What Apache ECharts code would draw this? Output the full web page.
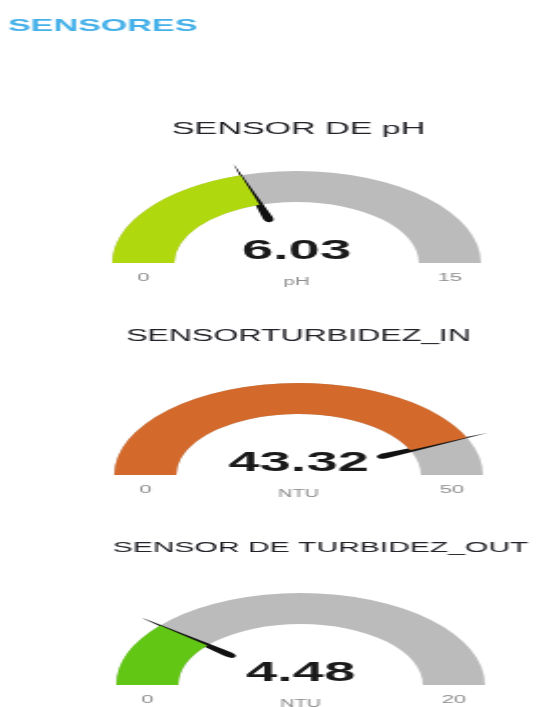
<!DOCTYPE html>
<html>
<head>
<meta charset="utf-8">
<script src="https://cdn.jsdelivr.net/npm/echarts@6/dist/echarts.min.js"></script>
<style>
  html, body { margin: 0; padding: 0; background: #fff; overflow: hidden; }
  /* the reference is a horizontally stretched screenshot, so draw at half width and stretch */
  #main { width: 268px; height: 707px; transform: scaleX(2.0037); transform-origin: 0 0; }
</style>
</head>
<body>
<div id="main"></div>
<script>
// data
var pageTitle = 'SENSORES'
var gaugeTitles = ['SENSOR DE pH', 'SENSORTURBIDEZ_IN', 'SENSOR DE TURBIDEZ_OUT']
var gaugeValues = [6.03, 43.32, 4.48]
var gaugeMins = [0, 0, 0]
var gaugeMaxs = [15, 50, 20]
var gaugeUnits = ['pH', 'NTU', 'NTU']
var gaugeColors = ['#b0d80e', '#d3692a', '#62c614']

// layout (unstretched px)
var centers = [[148, 263], [149, 475], [150, 685]]
var titlePos = [[149, 129, 17], [149, 337, 16], [160, 548, 15]]
var R = 92
var W = 31

var chart = echarts.init(document.getElementById('main'))

var series = []
var graphics = []
gaugeValues.forEach(function(v, i) {
  series.push({
    type: 'gauge',
    center: centers[i],
    radius: R,
    startAngle: 180,
    endAngle: 0,
    min: gaugeMins[i],
    max: gaugeMaxs[i],
    animation: false,
    axisLine: { lineStyle: { width: W, color: [[1, '#bbbbbb']] } },
    progress: { show: true, width: W, itemStyle: { color: gaugeColors[i] } },
    splitLine: { show: false },
    axisTick: { show: false },
    axisLabel: { show: false },
    anchor: { show: false },
    pointer: {
      icon: 'path://M48,0 L52,0 L100,96 A50,8 0 0 1 0,96 Z',
      length: 60,
      width: 5,
      offsetCenter: [0, -43],
      itemStyle: { color: '#111' }
    },
    title: {
      offsetCenter: [0, 19],
      fontSize: 10,
      color: '#8c8c8c',
      fontFamily: 'Liberation Sans'
    },
    detail: {
      offsetCenter: [0, -12],
      fontSize: 28,
      fontWeight: 'bold',
      color: '#1a1a1a',
      fontFamily: 'Liberation Sans',
      formatter: function(val) { return val.toFixed(2) }
    },
    data: [{ value: v, name: gaugeUnits[i] }]
  })

  graphics.push({
    type: 'text',
    x: titlePos[i][0],
    y: titlePos[i][1],
    style: {
      text: gaugeTitles[i],
      fill: '#222228',
      font: 'normal ' + titlePos[i][2] + 'px "Liberation Sans"',
      align: 'center', verticalAlign: 'middle',
      textAlign: 'center', textVerticalAlign: 'middle'
    }
  })
  var mid = R - W / 2
  var ends = [[gaugeMins[i], -mid], [gaugeMaxs[i], mid]]
  ends.forEach(function(e) {
    graphics.push({
      type: 'text',
      x: centers[i][0] + e[1],
      y: centers[i][1] + 15,
      style: {
        text: String(e[0]),
        fill: '#8c8c8c',
        font: 'normal 11px "Liberation Sans"',
        align: 'center', verticalAlign: 'middle',
        textAlign: 'center', textVerticalAlign: 'middle'
      }
    })
  })
})

chart.setOption({
  backgroundColor: '#fff',
  title: {
    text: pageTitle,
    left: 4,
    top: 18,
    padding: 0,
    textStyle: {
      color: '#46b1e9',
      fontSize: 17,
      fontWeight: 'bold',
      fontFamily: 'Liberation Sans'
    }
  },
  graphic: graphics,
  series: series
})
</script>
</body>
</html>
